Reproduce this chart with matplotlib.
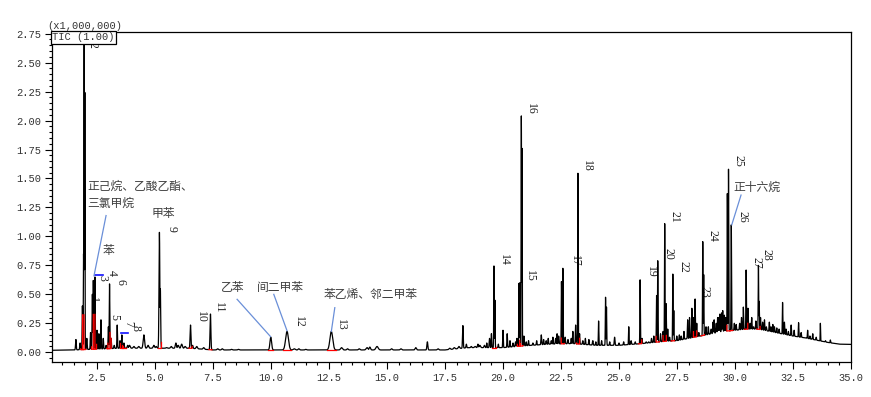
import numpy as np
import matplotlib
matplotlib.use("Agg")
import matplotlib.pyplot as plt
from matplotlib.ticker import MultipleLocator, FormatStrFormatter

# retention time (min), apex height (x1,000,000), peak sigma (min)
peak_rt = [1.59, 1.77, 1.87, 1.92, 1.945, 1.975, 2.06, 2.22, 2.30, 2.34, 2.41, 2.50, 2.58, 2.67,
           2.77, 2.89, 2.99, 3.04, 3.11, 3.24, 3.37, 3.49, 3.57, 3.66, 3.82, 4.09, 4.52, 4.95,
           5.19, 5.23, 5.90, 6.15, 6.53, 6.62, 7.39, 7.9, 8.3, 9.99, 10.69, 11.0, 12.6, 13.04,
           14.14, 14.26, 14.57, 16.24, 16.74, 17.9, 18.27, 18.42, 18.63, 18.92, 19.2, 19.42,
           19.5, 19.61, 19.65, 20.0, 20.18, 20.43, 20.54, 20.69, 20.73, 20.79, 20.82, 20.9,
           21.29, 21.65, 21.86, 22.08, 22.27, 22.4, 22.52, 22.58, 22.8, 22.94, 23.01, 23.13,
           23.23, 23.3, 23.44, 23.87, 24.12, 24.42, 24.46, 24.81, 25.42, 25.52, 25.91, 25.99,
           26.17, 26.28, 26.62, 26.67, 26.79, 26.97, 27.03, 27.18, 27.32, 27.36, 27.49, 27.68,
           27.96, 28.04, 28.14, 28.22, 28.28, 28.44, 28.61, 28.65, 28.75, 28.97, 29.19, 29.3,
           29.42, 29.54, 29.67, 29.72, 29.84, 29.97, 30.12, 30.36, 30.48, 30.56, 30.65, 30.8,
           31.01, 31.04, 31.19, 31.35, 31.48, 31.63, 31.8, 32.05, 32.13, 32.42, 32.74, 33.13,
           33.23, 33.68, 34.11]
peak_h = [0.11, 0.08, 0.40, 0.85, 2.95, 2.26, 0.12, 0.17, 0.50, 0.62, 0.65, 0.19, 0.16, 0.28,
          0.12, 0.06, 0.22, 0.59, 0.12, 0.06, 0.235, 0.10, 0.15, 0.08, 0.06, 0.05, 0.15, 0.06,
          1.035, 0.55, 0.08, 0.07, 0.235, 0.06, 0.33, 0.03, 0.025, 0.13, 0.18, 0.03, 0.18, 0.04,
          0.04, 0.045, 0.05, 0.04, 0.09, 0.04, 0.23, 0.07, 0.05, 0.07, 0.06, 0.12,
          0.16, 0.745, 0.45, 0.19, 0.16, 0.08, 0.09, 0.595, 0.60, 2.04, 1.76, 0.14,
          0.08, 0.15, 0.10, 0.10, 0.12, 0.14, 0.61, 0.725, 0.11, 0.12, 0.18, 0.235,
          1.545, 0.16, 0.10, 0.10, 0.27, 0.475, 0.39, 0.13, 0.22, 0.10, 0.625, 0.12,
          0.09, 0.09, 0.49, 0.79, 0.16, 1.11, 0.42, 0.13, 0.675, 0.36, 0.14, 0.14,
          0.28, 0.30, 0.38, 0.30, 0.46, 0.17, 0.955, 0.67, 0.22, 0.20, 0.25, 0.30,
          0.34, 0.32, 1.37, 1.58, 1.10, 0.25, 0.18, 0.39, 0.71, 0.38, 0.25, 0.22,
          0.75, 0.44, 0.26, 0.22, 0.26, 0.24, 0.21, 0.43, 0.26, 0.235, 0.255, 0.19,
          0.14, 0.25, 0.106]
peak_w = [0.015, 0.015, 0.012, 0.010, 0.010, 0.008, 0.015, 0.012, 0.012, 0.012, 0.012, 0.012, 0.012, 0.012,
          0.012, 0.015, 0.012, 0.012, 0.012, 0.015, 0.012, 0.012, 0.012, 0.015, 0.02, 0.03, 0.03, 0.03,
          0.018, 0.014, 0.025, 0.03, 0.018, 0.02, 0.018, 0.03, 0.03, 0.035, 0.06, 0.04, 0.06, 0.04,
          0.04, 0.03, 0.05, 0.03, 0.02, 0.03, 0.015, 0.015, 0.02, 0.02, 0.02, 0.015,
          0.012, 0.010, 0.010, 0.012, 0.012, 0.015, 0.015, 0.010, 0.010, 0.010, 0.008, 0.015,
          0.015, 0.015, 0.015, 0.015, 0.015, 0.015, 0.010, 0.010, 0.015, 0.012, 0.012, 0.012,
          0.010, 0.012, 0.015, 0.015, 0.010, 0.010, 0.010, 0.015, 0.010, 0.015, 0.010, 0.012,
          0.015, 0.015, 0.010, 0.010, 0.012, 0.010, 0.010, 0.012, 0.010, 0.010, 0.012, 0.012,
          0.012, 0.010, 0.010, 0.010, 0.010, 0.012, 0.010, 0.010, 0.012, 0.015, 0.015, 0.012,
          0.012, 0.012, 0.010, 0.010, 0.010, 0.012, 0.015, 0.010, 0.010, 0.010, 0.012, 0.015,
          0.010, 0.010, 0.012, 0.015, 0.012, 0.012, 0.012, 0.010, 0.012, 0.012, 0.010, 0.010,
          0.010, 0.008, 0.010]

# small bumps / noise peaks
minor_rt = [3.9, 4.3, 4.7, 5.05, 5.5, 5.7, 6.0, 6.3, 6.8, 7.1, 7.7, 8.6, 11.2, 11.5, 13.3,
            13.8, 15.2, 15.6, 17.2, 17.7, 18.1, 18.8, 19.0,
            19.3, 19.8, 20.3, 20.6, 21.0, 21.1, 21.45, 21.75, 21.95, 22.15, 22.33, 22.68,
            23.55, 23.7, 24.0, 24.25, 24.6, 25.0, 25.2, 25.7, 26.4, 26.5, 26.9, 27.1, 27.6,
            27.8, 28.35, 28.85, 29.05, 29.1, 29.25, 29.35, 29.47, 29.6, 30.05, 30.2, 30.28,
            30.72, 30.9, 31.1, 31.27, 31.55, 31.7, 31.9, 32.2, 32.3, 32.55, 32.85, 33.35,
            33.5, 33.9]
minor_h = [0.06, 0.05, 0.06, 0.05, 0.04, 0.05, 0.06, 0.05, 0.05, 0.04, 0.03, 0.025, 0.03, 0.025, 0.03,
           0.03, 0.03, 0.03, 0.03, 0.035, 0.05, 0.05, 0.06,
           0.08, 0.07, 0.10, 0.12, 0.09, 0.10, 0.10, 0.11, 0.12, 0.13, 0.16, 0.13,
           0.12, 0.11, 0.09, 0.10, 0.09, 0.08, 0.09, 0.09, 0.12, 0.14, 0.18, 0.20, 0.15,
           0.18, 0.25, 0.22, 0.26, 0.28, 0.30, 0.33, 0.36, 0.30, 0.24, 0.25, 0.30,
           0.30, 0.27, 0.30, 0.28, 0.22, 0.22, 0.20, 0.20, 0.18, 0.19, 0.17, 0.16,
           0.13, 0.10]
minor_w = [0.03] * 23 + [0.012] * 51

# drifting baseline
base_rt = [0.5, 1.5, 3.5, 6.5, 7.5, 12.0, 17.5, 18.5, 20.0, 21.0, 22.0, 23.0, 24.0, 25.0, 26.0,
           27.0, 27.5, 28.0, 28.5, 29.0, 29.5, 30.0, 30.5, 31.0, 31.5, 32.0, 32.5, 33.0, 33.5,
           34.0, 34.5, 35.0]
base_h = [0.017, 0.02, 0.035, 0.035, 0.02, 0.02, 0.02, 0.04, 0.04, 0.057, 0.07, 0.075, 0.06, 0.06,
          0.075, 0.095, 0.10, 0.12, 0.14, 0.16, 0.18, 0.19, 0.20, 0.20, 0.18, 0.16, 0.14, 0.125,
          0.105, 0.085, 0.07, 0.068]

# numbered peaks: number, label left x, label bottom y
label_no = [str(i) for i in range(1, 29)]
label_x = [2.06, 2.05, 2.48, 2.90, 2.99, 3.27, 3.60, 3.92, 5.47, 6.72, 7.51, 10.93, 12.75,
           19.78, 20.89, 20.93, 22.84, 23.37, 26.13, 26.89, 27.15, 27.53, 28.42, 28.78, 29.90,
           30.07, 30.65, 31.12]
label_y = [0.43, 2.63, 0.62, 0.66, 0.28, 0.58, 0.22, 0.18, 1.04, 0.25, 0.34, 0.21, 0.19,
           0.75, 0.61, 2.05, 0.74, 1.56, 0.64, 0.80, 1.12, 0.69, 0.47, 0.95, 1.60,
           1.12, 0.72, 0.79]
# integrated peaks (red baseline marks)
integ_rt = [1.87, 1.945, 2.34, 2.41, 2.99, 3.04, 3.57, 3.66, 5.19, 6.53, 7.39, 9.99, 10.69, 12.6,
            19.61, 20.69, 20.79, 22.58, 23.23, 25.91, 26.67, 26.97, 27.32, 28.28, 28.61,
            29.72, 29.84, 30.48, 31.01]

# compound names with leader lines
ann_text = ['正己烷、乙酸乙酯、', '三氯甲烷', '苯', '甲苯', '乙苯', '间二甲苯', '苯乙烯、邻二甲苯', '正十六烷']
ann_x = [2.08, 2.08, 3.01, 5.34, 8.33, 10.40, 14.30, 30.96]
ann_y = [1.43, 1.29, 0.88, 1.20, 0.56, 0.56, 0.495, 1.42]
ann_ha = ['left', 'left', 'center', 'center', 'center', 'center', 'center', 'center']
lead_x0 = [2.89, 8.54, 10.12, 12.75, 30.26]
lead_y0 = [1.18, 0.457, 0.50, 0.385, 1.357]
lead_x1 = [2.37, 9.98, 10.69, 12.60, 29.86]
lead_y1 = [0.66, 0.135, 0.186, 0.18, 1.10]

plt.rcParams['font.family'] = ['Noto Sans CJK SC', 'DejaVu Sans']
mono = 'Liberation Mono'

t = np.arange(0.5, 35.001, 0.002)
base = np.interp(t, base_rt, base_h)
sig = base.copy()
for rt, h, w in zip(peak_rt + minor_rt, peak_h + minor_h, peak_w + minor_w):
    amp = h - np.interp(rt, base_rt, base_h)
    sig = np.maximum(sig, base + amp * np.exp(-0.5 * ((t - rt) / w) ** 2))

fig = plt.figure(figsize=(8.71, 3.97), dpi=100)
ax = fig.add_axes([52 / 871, 1 - 362 / 397, 799 / 871, 329.7 / 397])
ax.plot(t, sig, color='black', lw=0.9, zorder=3)

# integration marks (red)
for rt in integ_rt:
    w = peak_w[peak_rt.index(rt)]
    d = max(3 * w, 0.07)
    xa, xb = rt - d, rt + d
    ba = np.interp(xa, base_rt, base_h)
    bb = np.interp(xb, base_rt, base_h)
    cap = 0.05 if rt > 15 else 0.3
    sa = min(np.interp(xa, t, sig), ba + cap)
    sb = min(np.interp(xb, t, sig), bb + cap)
    ax.plot([xa, xa, xb, xb], [sa, ba, bb, sb], color='red', lw=0.9, zorder=4)

ax.plot([2.41, 2.74], [0.67, 0.67], color='#1010ff', lw=1.2, zorder=4)
ax.plot([3.53, 3.82], [0.17, 0.17], color='#1010ff', lw=1.2, zorder=4)

for no, x, y in zip(label_no, label_x, label_y):
    ax.text(x, y, no, rotation=270, ha='left', va='bottom', fontsize=8.5,
            family='Liberation Serif', color='#222222', zorder=2)

for s, x, y, ha in zip(ann_text, ann_x, ann_y, ann_ha):
    ax.text(x, y, s, ha=ha, va='center', fontsize=8.5, color='#404040', zorder=5)
for x0, y0, x1, y1 in zip(lead_x0, lead_y0, lead_x1, lead_y1):
    ax.plot([x0, x1], [y0, y1], color='#6a8fd8', lw=0.9, zorder=5)

ax.set_xlim(0.56, 35.0)
ax.set_ylim(-0.084, 2.762)
ax.xaxis.set_major_locator(MultipleLocator(2.5))
ax.xaxis.set_minor_locator(MultipleLocator(0.5))
ax.yaxis.set_major_locator(MultipleLocator(0.25))
ax.yaxis.set_minor_locator(MultipleLocator(0.05))
ax.xaxis.set_major_formatter(FormatStrFormatter('%.1f'))
ax.yaxis.set_major_formatter(FormatStrFormatter('%.2f'))
ax.tick_params(which='major', direction='out', length=5, width=0.8, labelsize=7.5, pad=3)
ax.tick_params(which='minor', direction='out', length=2.5, width=0.8)
for lab in ax.get_xticklabels() + ax.get_yticklabels():
    lab.set_family(mono)
    lab.set_color('#333333')
for sp in ax.spines.values():
    sp.set_linewidth(0.9)

ax.text(0.0, 1.0, 'TIC (1.00)', transform=ax.transAxes, ha='left', va='top', family=mono,
        fontsize=7.5, color='#333333', zorder=10,
        bbox=dict(boxstyle='square,pad=0.12', fc='white', ec='black', lw=0.9))
fig.text(47 / 871, 1 - 26 / 397, '(x1,000,000)', family=mono, fontsize=7.5, color='#333333',
         ha='left', va='center')

fig.savefig('out.png', dpi=100)
